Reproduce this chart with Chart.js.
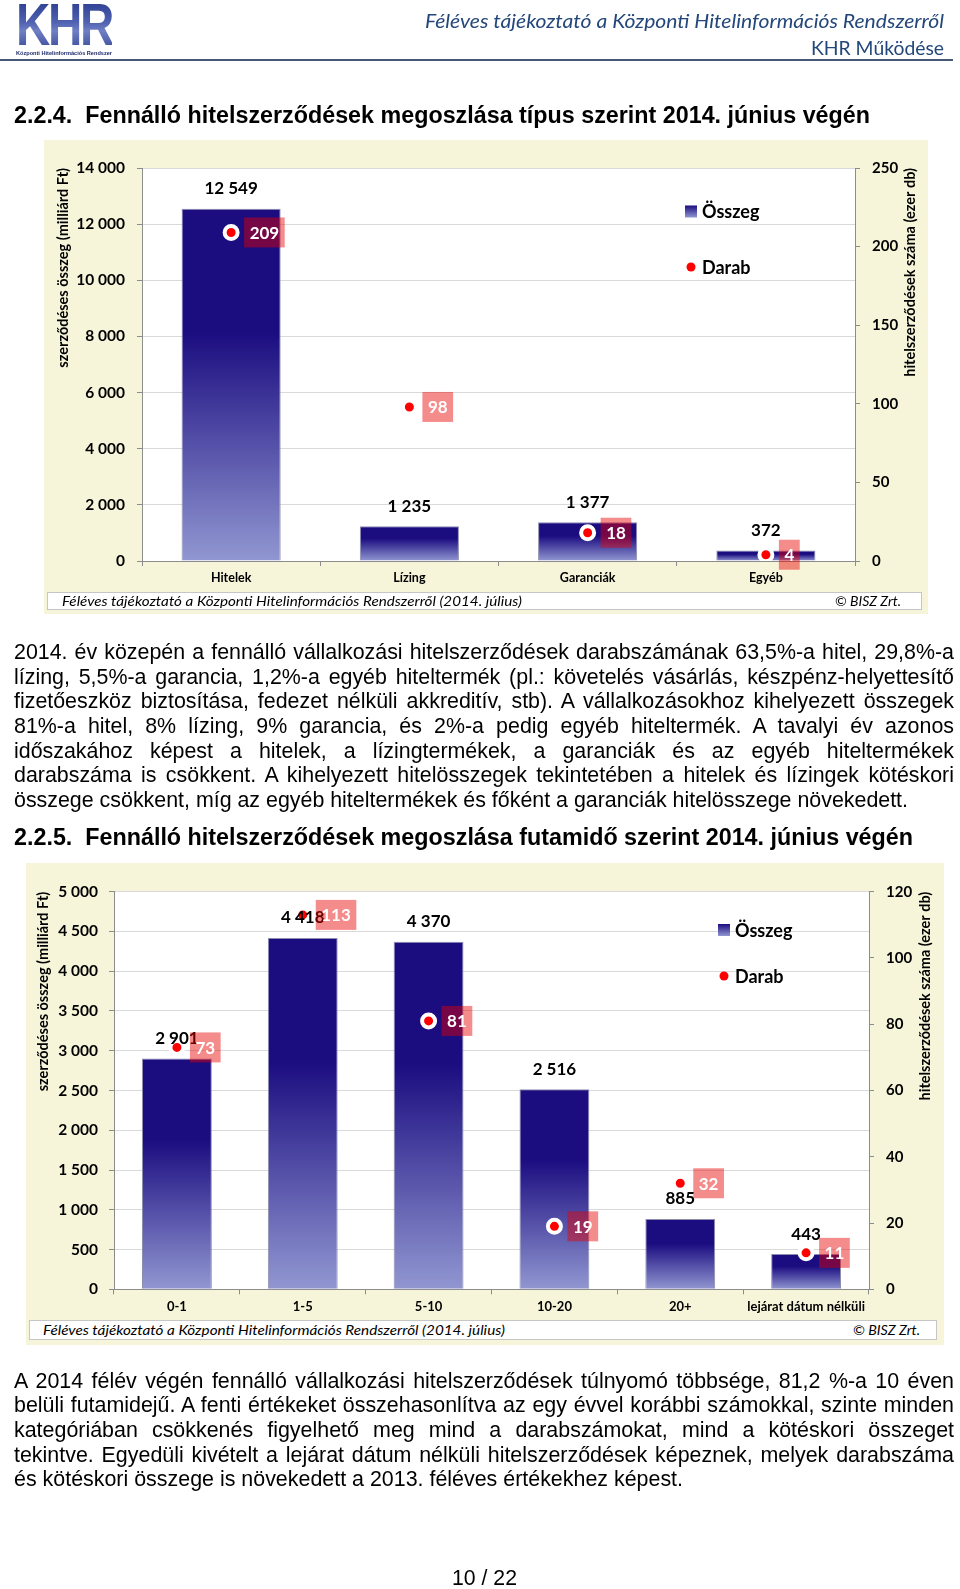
<!DOCTYPE html>
<html lang="hu"><head><meta charset="utf-8"><title>KHR – Fennálló hitelszerződések</title>
<script src="https://cdn.jsdelivr.net/npm/chart.js@4.4.1/dist/chart.umd.min.js"></script>
<style>
html,body{margin:0;padding:0;background:#fff}
body{width:960px;height:1589px;position:relative;overflow:hidden;font-family:"Liberation Sans",Arial,sans-serif;color:#000}
.t{position:absolute;white-space:nowrap;line-height:24px;transform-origin:0 50%}
.hdr{font-family:Lato,sans-serif;color:#23477a;font-size:20px}
.h{font-weight:bold;font-size:23px}
.p{font-size:21.5px}
.panel{position:absolute;background:#f6f4d9}
.panel canvas{position:absolute;left:0;top:0}
.fbox{position:absolute;background:#fff;border:1px solid #c6c6c6;box-sizing:border-box}
.ft{position:absolute;white-space:nowrap;font-family:Lato,sans-serif;font-style:italic;font-size:14px;line-height:20px;color:#000;transform-origin:0 50%}
.logo{position:absolute;left:16px;top:-5px;font-family:"Liberation Sans",Arial,sans-serif;font-weight:bold;font-size:60px;line-height:60px;white-space:nowrap;transform-origin:0 50%;
 background:linear-gradient(180deg,#24358a 0%,#4f61b0 45%,#7080c4 60%,#2a3b8f 100%);-webkit-background-clip:text;background-clip:text;color:transparent;letter-spacing:-3px}
.logosub{position:absolute;left:16px;top:49px;font-family:"Liberation Sans",Arial,sans-serif;font-weight:bold;font-size:6px;line-height:8px;white-space:nowrap;color:#1d2a6b;transform-origin:0 50%}
.rule{position:absolute;left:0;top:59px;width:953px;height:2px;background:#475a75}
</style></head><body>

<div class="logo" id="logo">KHR</div>
<div class="logosub" id="logosub">Központi Hitelinformációs Rendszer</div>
<div class="t hdr" id="hdr1" style="left:425px;top:8px;font-style:italic">Féléves tájékoztató a Központi Hitelinformációs Rendszerről</div>
<div class="t hdr" id="hdr2" style="left:811px;top:34.5px">KHR Működése</div>
<div class="rule"></div>

<div class="t h" id="h1" style="left:14px;top:103px">2.2.4.&nbsp; Fennálló hitelszerződések megoszlása típus szerint 2014. június végén</div>

<div class="panel" style="left:44px;top:140px;width:884px;height:474px">
  <canvas id="c1" width="884" height="474"></canvas>
  <div class="fbox" style="left:3px;top:452px;width:875px;height:18px"></div>
  <div class="ft" id="f1a" style="left:17.7px;top:451px">Féléves tájékoztató a Központi Hitelinformációs Rendszerről (2014. július)</div>
  <div class="ft" id="f1b" style="left:790.7px;top:451px">© BISZ Zrt.</div>
</div>

<div id="p1">
<div class="t p" style="left:14px;top:640px">2014. év közepén a fennálló vállalkozási hitelszerződések darabszámának 63,5%-a hitel, 29,8%-a</div>
<div class="t p" style="left:14px;top:664.7px">lízing, 5,5%-a garancia, 1,2%-a egyéb hiteltermék (pl.: követelés vásárlás, készpénz-helyettesítő</div>
<div class="t p" style="left:14px;top:689.3px">fizetőeszköz biztosítása, fedezet nélküli akkreditív, stb). A vállalkozásokhoz kihelyezett összegek</div>
<div class="t p" style="left:14px;top:714px">81%-a hitel, 8% lízing, 9% garancia, és 2%-a pedig egyéb hiteltermék. A tavalyi év azonos</div>
<div class="t p" style="left:14px;top:738.7px">időszakához képest a hitelek, a lízingtermékek, a garanciák és az egyéb hiteltermékek</div>
<div class="t p" style="left:14px;top:763.3px">darabszáma is csökkent. A kihelyezett hitelösszegek tekintetében a hitelek és lízingek kötéskori</div>
<div class="t p" style="left:14px;top:788px">összege csökkent, míg az egyéb hiteltermékek és főként a garanciák hitelösszege növekedett.</div>
</div>

<div class="t h" id="h2" style="left:14px;top:825px">2.2.5.&nbsp; Fennálló hitelszerződések megoszlása futamidő szerint 2014. június végén</div>

<div class="panel" style="left:26px;top:863px;width:918px;height:482px">
  <canvas id="c2" width="918" height="482"></canvas>
  <div class="fbox" style="left:3px;top:457px;width:908px;height:20px"></div>
  <div class="ft" id="f2a" style="left:17px;top:457px">Féléves tájékoztató a Központi Hitelinformációs Rendszerről (2014. július)</div>
  <div class="ft" id="f2b" style="left:827px;top:457px">© BISZ Zrt.</div>
</div>

<div id="p2">
<div class="t p" style="left:14px;top:1368.7px">A 2014 félév végén fennálló vállalkozási hitelszerződések túlnyomó többsége, 81,2 %-a 10 éven</div>
<div class="t p" style="left:14px;top:1393.3px">belüli futamidejű. A fenti értékeket összehasonlítva az egy évvel korábbi számokkal, szinte minden</div>
<div class="t p" style="left:14px;top:1417.9px">kategóriában csökkenés figyelhető meg mind a darabszámokat, mind a kötéskori összeget</div>
<div class="t p" style="left:14px;top:1442.5px">tekintve. Egyedüli kivételt a lejárat dátum nélküli hitelszerződések képeznek, melyek darabszáma</div>
<div class="t p" style="left:14px;top:1467.1px">és kötéskori összege is növekedett a 2013. féléves értékekhez képest.</div>
</div>

<div class="t p" id="pg" style="left:452px;top:1566px">10 / 22</div>

<script>
// ---- data ----
const typeCategories = ['Hitelek', 'Lízing', 'Garanciák', 'Egyéb'];
const typeAmounts = [12549, 1235, 1377, 372];        // Összeg (milliárd Ft)
const typeCounts = [209, 98, 18, 4];                  // Darab (ezer db)
const typeAmountTicks = [0, 2000, 4000, 6000, 8000, 10000, 12000, 14000];
const typeCountTicks = [0, 50, 100, 150, 200, 250];

const termCategories = ['0-1', '1-5', '5-10', '10-20', '20+', 'lejárat dátum nélküli'];
const termAmounts = [2901, 4418, 4370, 2516, 885, 443];
const termCounts = [73, 113, 81, 19, 32, 11];
const termAmountTicks = [0, 500, 1000, 1500, 2000, 2500, 3000, 3500, 4000, 4500, 5000];
const termCountTicks = [0, 20, 40, 60, 80, 100, 120];

const seriesNames = ['Összeg', 'Darab'];
const leftTitle = 'szerződéses összeg (milliárd Ft)';
const rightTitle = 'hitelszerződések száma (ezer db)';

// ---- text fitting ----
function fit(el, target) {
  el.style.transform = 'none';
  const w = el.getBoundingClientRect().width;
  el.style.transform = 'scaleX(' + (target / w) + ')';
}
function justify(container, lastTarget, fullW) {
  const lines = Array.from(container.children);
  const last = lines[lines.length - 1];
  last.style.transform = 'none';
  const s = lastTarget / last.getBoundingClientRect().width;
  lines.forEach((el, i) => {
    el.style.transform = 'none';
    el.style.wordSpacing = '0px';
    if (i < lines.length - 1) {
      const n = el.getBoundingClientRect().width;
      const k = (el.textContent.match(/ /g) || []).length;
      el.style.wordSpacing = ((fullW / s - n) / k) + 'px';
    }
    el.style.transform = 'scaleX(' + s + ')';
  });
}
fit(document.getElementById('logo'), 96);
fit(document.getElementById('logosub'), 96);
fit(document.getElementById('hdr1'), 519);
fit(document.getElementById('hdr2'), 133);
fit(document.getElementById('h1'), 856);
fit(document.getElementById('h2'), 899);
fit(document.getElementById('pg'), 65);
fit(document.getElementById('f1a'), 460);
fit(document.getElementById('f1b'), 66);
fit(document.getElementById('f2a'), 462);
fit(document.getElementById('f2b'), 67);
justify(document.getElementById('p1'), 894, 940);
justify(document.getElementById('p2'), 669, 940);

// ---- chart ----
Chart.defaults.font.family = 'Lato';
Chart.defaults.color = '#000';
const DARK = '#1b0c80', LIGHT = '#9197d1';
const AXIS = '#8c8c8c', GRID = '#d9d9d9';
const TITLE_FONT = 'bold 14.5px Lato';
function fmt(v) { return String(v).replace(/\B(?=(\d{3})+(?!\d))/g, ' '); }
function barFill(c) {
  const ch = c.chart;
  if (c.type !== 'data' || !ch.chartArea) return DARK;
  const ys = ch.scales.y;
  const t = ys.getPixelForValue(c.raw), b = ys.getPixelForValue(0);
  if (!(b > t)) return DARK;
  const g = ch.ctx.createLinearGradient(0, t, 0, b);
  g.addColorStop(0, DARK); g.addColorStop(0.35, DARK); g.addColorStop(1, LIGHT);
  return g;
}
const khrPlugin = {
  id: 'khr',
  beforeDraw(chart) {
    const a = chart.chartArea, ctx = chart.ctx;
    ctx.save(); ctx.fillStyle = '#fff';
    ctx.fillRect(a.left, a.top, a.right - a.left, a.bottom - a.top);
    ctx.restore();
  },
  afterDatasetsDraw(chart, args, opts) {
    const ctx = chart.ctx;
    ctx.save();
    ctx.textAlign = 'center'; ctx.textBaseline = 'middle';
    // bar value labels
    const bm = chart.getDatasetMeta(0), bv = chart.data.datasets[0].data;
    ctx.font = 'bold 17px Lato'; ctx.fillStyle = '#000';
    bm.data.forEach((el, i) => ctx.fillText(fmt(bv[i]), el.x, el.y - 20));
    // point value labels
    const pm = chart.getDatasetMeta(1), pv = chart.data.datasets[1].data;
    pm.data.forEach((el, i) => {
      const s = String(pv[i]);
      const w = ctx.measureText(s).width + 11;
      const x = el.x + 13, y = el.y;
      ctx.fillStyle = 'rgba(233,0,0,0.45)';
      ctx.fillRect(x, y - 15, w, 30);
      ctx.fillStyle = '#fff';
      ctx.fillText(s, x + w / 2, y + 1);
    });
    // in-plot legend
    const L = opts.legend;
    const g = ctx.createLinearGradient(0, L.y1 - 6, 0, L.y1 + 6);
    g.addColorStop(0, DARK); g.addColorStop(1, LIGHT);
    ctx.fillStyle = g; ctx.fillRect(L.x, L.y1 - 6, 12, 12);
    ctx.fillStyle = '#ff0000';
    ctx.beginPath(); ctx.arc(L.x + 6, L.y2, 4.5, 0, Math.PI * 2); ctx.fill();
    ctx.fillStyle = '#000'; ctx.textAlign = 'left'; ctx.font = 'bold 18px Lato';
    ctx.fillText(chart.data.datasets[0].label, L.x + 17, L.y1 + 1);
    ctx.fillText(chart.data.datasets[1].label, L.x + 17, L.y2 + 1);
    // right axis title, reading bottom-to-top, top aligned
    ctx.translate(opts.rtX, chart.chartArea.top);
    ctx.rotate(-Math.PI / 2);
    ctx.textAlign = 'right'; ctx.textBaseline = 'middle'; ctx.font = TITLE_FONT;
    ctx.fillText(rightTitle, 0, 0);
    ctx.restore();
  }
};

function makeChart(id, o) {
  return new Chart(document.getElementById(id), {
    type: 'bar',
    data: {
      labels: o.labels,
      datasets: [
        { type: 'bar', label: seriesNames[0], data: o.amounts, yAxisID: 'y', order: 2,
          backgroundColor: barFill, borderColor: 'rgba(135,135,170,0.95)', borderWidth: 1,
          categoryPercentage: 1, barPercentage: o.barPct },
        { type: 'line', label: seriesNames[1], data: o.counts, yAxisID: 'y1', order: 1,
          showLine: false, pointRadius: 6.5, pointHoverRadius: 6.5, pointBorderWidth: 4,
          pointBackgroundColor: '#ff0000', pointBorderColor: '#ffffff' }
      ]
    },
    options: {
      responsive: false, animation: false, events: [],
      layout: { padding: { top: o.top, left: 0, right: 0, bottom: 0 } },
      plugins: { legend: { display: false }, tooltip: { enabled: false }, khr: { legend: o.legend, rtX: o.rtX } },
      scales: {
        x: {
          offset: true,
          grid: { drawOnChartArea: false, offset: true, tickLength: 5, tickColor: AXIS },
          border: { color: AXIS },
          ticks: { font: { weight: 'bold', size: o.xFont }, color: '#000', padding: 4.5, maxRotation: 0, minRotation: 0, autoSkip: false },
          afterFit: s => { s.height = o.xH; }
        },
        y: {
          position: 'left', min: 0, max: o.leftTicks[o.leftTicks.length - 1],
          afterBuildTicks: s => { s.ticks = o.leftTicks.map(v => ({ value: v })); },
          afterFit: s => { s.width = o.leftW; },
          grid: { color: GRID, tickColor: AXIS, tickLength: 5 },
          border: { color: AXIS },
          ticks: { font: { weight: 'bold', size: 15.5 }, color: '#000', padding: o.lpad, callback: v => fmt(v) },
          title: { display: true, text: leftTitle, align: 'end', color: '#000',
                   font: { weight: 'bold', size: 14.5 }, padding: { top: o.tpL, bottom: 0 } }
        },
        y1: {
          position: 'right', min: 0, max: o.rightTicks[o.rightTicks.length - 1],
          afterBuildTicks: s => { s.ticks = o.rightTicks.map(v => ({ value: v })); },
          afterFit: s => { s.width = o.rightW; },
          grid: { drawOnChartArea: false, tickColor: AXIS, tickLength: 5 },
          border: { color: AXIS },
          ticks: { font: { weight: 'bold', size: 15 }, color: '#000', padding: 12, callback: v => fmt(v) },
          title: { display: false }
        }
      }
    },
    plugins: [khrPlugin]
  });
}

makeChart('c1', {
  labels: typeCategories, amounts: typeAmounts, counts: typeCounts,
  leftTicks: typeAmountTicks, rightTicks: typeCountTicks,
  leftW: 98, rightW: 73, top: 28, xH: 53, barPct: 0.556, xFont: 12.5, lpad: 12,
  tpL: 10.3, rtX: 866, legend: { x: 641, y1: 71.5, y2: 127 }
});
makeChart('c2', {
  labels: termCategories, amounts: termAmounts, counts: termCounts,
  leftTicks: termAmountTicks, rightTicks: termCountTicks,
  leftW: 88, rightW: 75, top: 28.7, xH: 55.7, barPct: 0.555, xFont: 13, lpad: 11,
  tpL: 8.3, rtX: 899, legend: { x: 692, y1: 67, y2: 113 }
});
</script>
</body></html>
